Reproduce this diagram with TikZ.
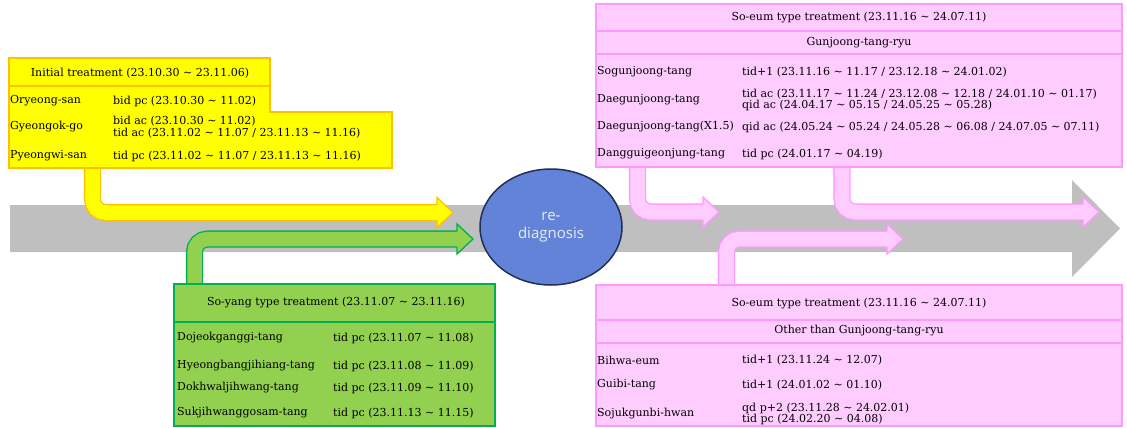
\documentclass[tikz,border=0pt]{standalone}
\usepackage{fontspec}
\setmainfont{DejaVu Serif}
\newfontfamily\ellfont{Open Sans}
\usetikzlibrary{shapes.geometric}
\newcommand{\tld}{\textasciitilde}
\definecolor{yfill}{HTML}{FFFF00}
\definecolor{yline}{HTML}{FFC000}
\definecolor{gfill}{HTML}{92D050}
\definecolor{gline}{HTML}{00B050}
\definecolor{pfill}{HTML}{FFCCFF}
\definecolor{pline}{HTML}{FF99FF}
\definecolor{band}{HTML}{BFBFBF}
\definecolor{efill}{HTML}{6383D9}
\definecolor{eline}{HTML}{1F2F55}
\newcommand{\headat}[3]{%
  \filldraw[fill=#2,draw=#3,line width=1.3pt,line join=miter]
    ([yshift=7.9pt]#1) -- ([yshift=15pt]#1) -- ([xshift=16pt]#1)
    -- ([yshift=-15pt]#1) -- ([yshift=-7.9pt]#1);}
\begin{document}
\begin{tikzpicture}[x=1pt,y=-1pt,
  txt/.style={font=\fontsize{11}{11.8}\selectfont,inner sep=0pt,anchor=west,align=left},
  ttl/.style={font=\fontsize{11}{11.8}\selectfont,inner sep=0pt,anchor=center},
  boxline/.style={line width=2.5pt,line join=miter},
  bent/.style={line width=1.3pt,double distance=14.5pt,rounded corners=13pt,line cap=butt}]
\useasboundingbox (0,0) rectangle (1127,428);

% grey band arrow
\fill[band] (10,205) -- (1072,205) -- (1072,180) -- (1120,228.5) -- (1072,277) -- (1072,252) -- (10,252) -- cycle;

% coordinates for bent arrows
\coordinate (ys) at (92.5,166);  \coordinate (yh) at (437,212.5);
\coordinate (gs) at (194.5,286); \coordinate (gh) at (457,239);
\coordinate (p1s) at (637.5,166); \coordinate (p1h) at (703,212);
\coordinate (p2s) at (842,166);  \coordinate (p2h) at (1083,212);
\coordinate (p3s) at (726.5,287); \coordinate (p3h) at (887,239);

\draw[bent,draw=yline,double=yfill] (ys) |- (yh);
\headat{yh}{yfill}{yline}
\draw[bent,draw=gline,double=gfill] (gs) |- (gh);
\headat{gh}{gfill}{gline}
\draw[bent,draw=pline,double=pfill] (p1s) |- (p1h);
\headat{p1h}{pfill}{pline}
\draw[bent,draw=pline,double=pfill] (p2s) |- (p2h);
\headat{p2h}{pfill}{pline}
\draw[bent,draw=pline,double=pfill] (p3s) |- (p3h);
\headat{p3h}{pfill}{pline}

% yellow box
\filldraw[boxline,fill=yfill,draw=yline] (9,58) -- (270,58) -- (270,112) -- (392,112) -- (392,168) -- (9,168) -- cycle;
\draw[boxline,draw=yline] (9,86) -- (270,86);
% green box
\filldraw[boxline,fill=gfill,draw=gline] (174,284) rectangle (495,426);
\draw[boxline,draw=gline] (174,322) -- (495,322);
% pink top box
\filldraw[boxline,fill=pfill,draw=pline] (596,4) rectangle (1122,167);
\draw[boxline,draw=pline] (596,31) -- (1122,31);
\draw[boxline,draw=pline] (596,54) -- (1122,54);
% pink bottom box
\filldraw[boxline,fill=pfill,draw=pline] (596,285) rectangle (1122,426);
\draw[boxline,draw=pline] (596,320) -- (1122,320);
\draw[boxline,draw=pline] (596,343) -- (1122,343);

% ellipse
\node[ellipse,draw=eline,line width=1.5pt,fill=efill,minimum width=142pt,minimum height=116pt,inner sep=0pt,
  align=center,text=white!85!efill,font=\ellfont\fontsize{15}{18}\selectfont] (rd) at (551,227) {re-\\diagnosis};

% yellow texts
\node[ttl] (yt) at (140,73) {Initial treatment (23.10.30 \tld{} 23.11.06)};
\node[txt] (y1a) at (10,101) {Oryeong-san};
\node[txt] (y1b) at (113,101) {bid pc (23.10.30 \tld{} 11.02)};
\node[txt] (y2a) at (10,127) {Gyeongok-go};
\node[txt] (y2b) at (113,127) {bid ac (23.10.30 \tld{} 11.02)\\tid ac (23.11.02 \tld{} 11.07 / 23.11.13 \tld{} 11.16)};
\node[txt] (y3a) at (10,156) {Pyeongwi-san};
\node[txt] (y3b) at (113,156) {tid pc (23.11.02 \tld{} 11.07 / 23.11.13 \tld{} 11.16)};

% green texts
\node[ttl] (gt) at (336,303) {So-yang type treatment (23.11.07 \tld{} 23.11.16)};
\node[txt] (g1a) at (177,338) {Dojeokganggi-tang};
\node[txt] (g1b) at (333,338) {tid pc (23.11.07 \tld{} 11.08)};
\node[txt] (g2a) at (177,366) {Hyeongbangjihiang-tang};
\node[txt] (g2b) at (333,366) {tid pc (23.11.08 \tld{} 11.09)};
\node[txt] (g3a) at (177,388) {Dokhwaljihwang-tang};
\node[txt] (g3b) at (333,388) {tid pc (23.11.09 \tld{} 11.10)};
\node[txt] (g4a) at (177,413) {Sukjihwanggosam-tang};
\node[txt] (g4b) at (333,413) {tid pc (23.11.13 \tld{} 11.15)};

% pink top texts
\node[ttl] (pt1) at (859,18) {So-eum type treatment (23.11.16 \tld{} 24.07.11)};
\node[ttl] (pt2) at (859,43) {Gunjoong-tang-ryu};
\node[txt] (p1a) at (597,72) {Sogunjoong-tang};
\node[txt] (p1b) at (742,72) {tid+1 (23.11.16 \tld{} 11.17 / 23.12.18 \tld{} 24.01.02)};
\node[txt] (p2a) at (597,100) {Daegunjoong-tang};
\node[txt] (p2b) at (742,100) {tid ac (23.11.17 \tld{} 11.24 / 23.12.08 \tld{} 12.18 / 24.01.10 \tld{} 01.17)\\qid ac (24.04.17 \tld{} 05.15 / 24.05.25 \tld{} 05.28)};
\node[txt] (p3a) at (597,127) {Daegunjoong-tang(X1.5)};
\node[txt] (p3b) at (742,127) {qid ac (24.05.24 \tld{} 05.24 / 24.05.28 \tld{} 06.08 / 24.07.05 \tld{} 07.11)};
\node[txt] (p4a) at (597,154) {Dangguigeonjung-tang};
\node[txt] (p4b) at (742,154) {tid pc (24.01.17 \tld{} 04.19)};

% pink bottom texts
\node[ttl] (qt1) at (859,304) {So-eum type treatment (23.11.16 \tld{} 24.07.11)};
\node[ttl] (qt2) at (859,331) {Other than Gunjoong-tang-ryu};
\node[txt] (q1a) at (597,360) {Bihwa-eum};
\node[txt] (q1b) at (742,360) {tid+1 (23.11.24 \tld{} 12.07)};
\node[txt] (q2a) at (597,385) {Guibi-tang};
\node[txt] (q2b) at (742,385) {tid+1 (24.01.02 \tld{} 01.10)};
\node[txt] (q3a) at (597,414) {Sojukgunbi-hwan};
\node[txt] (q3b) at (742,414) {qd p+2 (23.11.28 \tld{} 24.02.01)\\tid pc (24.02.20 \tld{} 04.08)};
\end{tikzpicture}
\end{document}
